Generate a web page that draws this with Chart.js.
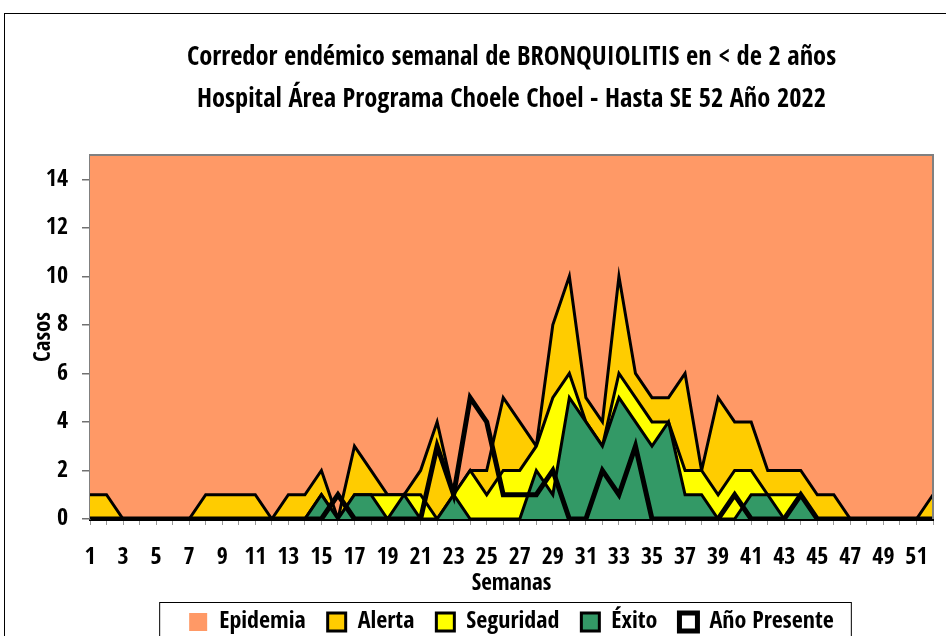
<!DOCTYPE html>
<html>
<head>
<meta charset="utf-8">
<script src="https://cdn.jsdelivr.net/npm/chart.js@4.4.1/dist/chart.umd.min.js"></script>
<style>
  html, body { margin: 0; padding: 0; background: #fff; overflow: hidden; }
  #wrap { position: relative; width: 946px; height: 654px; }
  #frame { position: absolute; left: 4px; top: 13px; width: 1000px; height: 1000px;
           border-left: 1px solid #000; border-top: 1px solid #000; pointer-events: none; }
</style>
</head>
<body>
<div id="wrap">
  <canvas id="myChart" width="946" height="654"></canvas>
  <div id="frame"></div>
</div>
<script>
// semanas epidemiologicas
const semanas = ['1','2','3','4','5','6','7','8','9','10','11','12','13','14','15','16','17','18','19','20',
  '21','22','23','24','25','26','27','28','29','30','31','32','33','34','35','36','37','38','39','40',
  '41','42','43','44','45','46','47','48','49','50','51','52'];

// limites del corredor (valor acumulado de cada zona)
const epidemia = [15,15,15,15,15,15,15,15,15,15,15,15,15,15,15,15,15,15,15,15,15,15,15,15,15,15,
  15,15,15,15,15,15,15,15,15,15,15,15,15,15,15,15,15,15,15,15,15,15,15,15,15,15];
const alerta = [1,1,0,0,0,0,0,1,1,1,1,0,1,1,2,0,3,2,1,1,2,4,1,2,2,5,
  4,3,8,10,5,4,10,6,5,5,6,2,5,4,4,2,2,2,1,1,0,0,0,0,0,1];
const seguridad = [0,0,0,0,0,0,0,0,0,0,0,0,0,0,1,0,1,1,1,1,1,0,1,2,1,2,
  2,3,5,6,4,3,6,5,4,4,2,2,1,2,2,1,1,1,0,0,0,0,0,0,0,0];
const exito = [0,0,0,0,0,0,0,0,0,0,0,0,0,0,1,0,1,1,0,1,0,0,1,0,0,0,
  0,2,1,5,4,3,5,4,3,4,1,1,0,0,1,1,0,1,0,0,0,0,0,0,0,0];
// casos 2022
const anioPresente = [0,0,0,0,0,0,0,0,0,0,0,0,0,0,0,1,0,0,0,0,0,3,1,5,4,1,
  1,1,2,0,0,2,1,3,0,0,0,0,0,1,0,0,0,1,0,0,0,0,0,0,0,0];

const yTicks = [0, 2, 4, 6, 8, 10, 12, 14];

Chart.defaults.font.family = "'Open Sans Condensed', 'Roboto Condensed', sans-serif";
Chart.defaults.font.weight = 'bold';
Chart.defaults.color = '#000';

// borde gris del area de grafico + recuadro de la leyenda
const marcos = {
  id: 'marcos',
  afterDraw(chart) {
    const ctx = chart.ctx;
    const a = chart.chartArea;
    ctx.save();
    ctx.strokeStyle = '#808080';
    ctx.lineWidth = 2;
    ctx.beginPath();
    ctx.moveTo(a.left, a.top);
    ctx.lineTo(a.right, a.top);
    ctx.lineTo(a.right, a.bottom);
    ctx.stroke();
    // recuadro leyenda
    const boxes = chart.legend.legendHitBoxes;
    if (boxes && boxes.length) {
      const l = Math.min(...boxes.map(b => b.left)) - 30;
      const r = Math.max(...boxes.map(b => b.left + b.width)) + 17;
      const t = 602;
      ctx.strokeStyle = '#000';
      ctx.lineWidth = 1;
      ctx.strokeRect(l + 0.5, t + 0.5, r - l, 60);
    }
    ctx.restore();
  }
};

const area = (label, data, color, order, border) => ({
  label: label,
  data: data,
  backgroundColor: color,
  borderColor: '#000',
  borderWidth: border,
  fill: 'origin',
  order: order,
  pointRadius: 0,
  tension: 0
});

let ctx = document.getElementById('myChart').getContext('2d');
let chartJS = new Chart(ctx, {
  type: 'line',
  data: {
    labels: semanas,
    datasets: [
      area('Epidemia', epidemia, '#FF9966', 5, 0),
      area('Alerta', alerta, '#FFCC00', 4, 3),
      area('Seguridad', seguridad, '#FFFF00', 3, 3),
      area('Éxito', exito, '#339966', 2, 3),
      {
        label: 'Año Presente',
        data: anioPresente,
        borderColor: '#000',
        backgroundColor: '#fff',
        borderWidth: 5,
        fill: false,
        order: 1,
        pointRadius: 0,
        tension: 0
      }
    ]
  },
  plugins: [marcos],
  options: {
    responsive: false,
    animation: false,
    layout: { padding: { left: 30, right: 13, top: 37, bottom: 10 } },
    scales: {
      x: {
        offset: false,
        border: { color: '#000', width: 3 },
        grid: { drawOnChartArea: false, drawTicks: true, tickLength: 6, color: '#999' },
        ticks: {
          autoSkip: false,
          maxRotation: 0,
          padding: 4,
          font: { size: 24, lineHeight: 2.367 },
          callback: (v, i) => (i % 2 === 0 ? semanas[i] : '')
        },
        title: { display: true, text: 'Semanas', font: { size: 23 }, padding: { top: 0, bottom: -10 } },
        afterFit: (s) => { s.height = 69; }
      },
      y: {
        min: 0,
        max: 15,
        border: { color: '#808080', width: 2 },
        grid: { color: '#707070', lineWidth: 1.5, tickLength: 8 },
        afterBuildTicks: (s) => { s.ticks = yTicks.map(v => ({ value: v })); },
        ticks: { padding: 14, font: { size: 24 } },
        title: { display: true, text: 'Casos', font: { size: 23 }, padding: { top: 0, bottom: 0 } },
        afterFit: (s) => { s.width = 60; }
      }
    },
    plugins: {
      tooltip: { enabled: false },
      title: {
        display: true,
        fullSize: false,
        text: ['Corredor endémico semanal de BRONQUIOLITIS en < de 2 años',
               'Hospital Área Programa Choele Choel - Hasta SE 52 Año 2022'],
        font: { size: 26.5, lineHeight: 1.585 },
        color: '#000',
        padding: { top: 0, bottom: 34 }
      },
      legend: {
        position: 'bottom',
        fullSize: false,
        labels: {
          boxWidth: 18,
          boxHeight: 18,
          padding: 22,
          font: { size: 24 },
          color: '#000',
          sort: (a, b) => a.datasetIndex - b.datasetIndex
        }
      }
    }
  }
});
</script>
</body>
</html>
